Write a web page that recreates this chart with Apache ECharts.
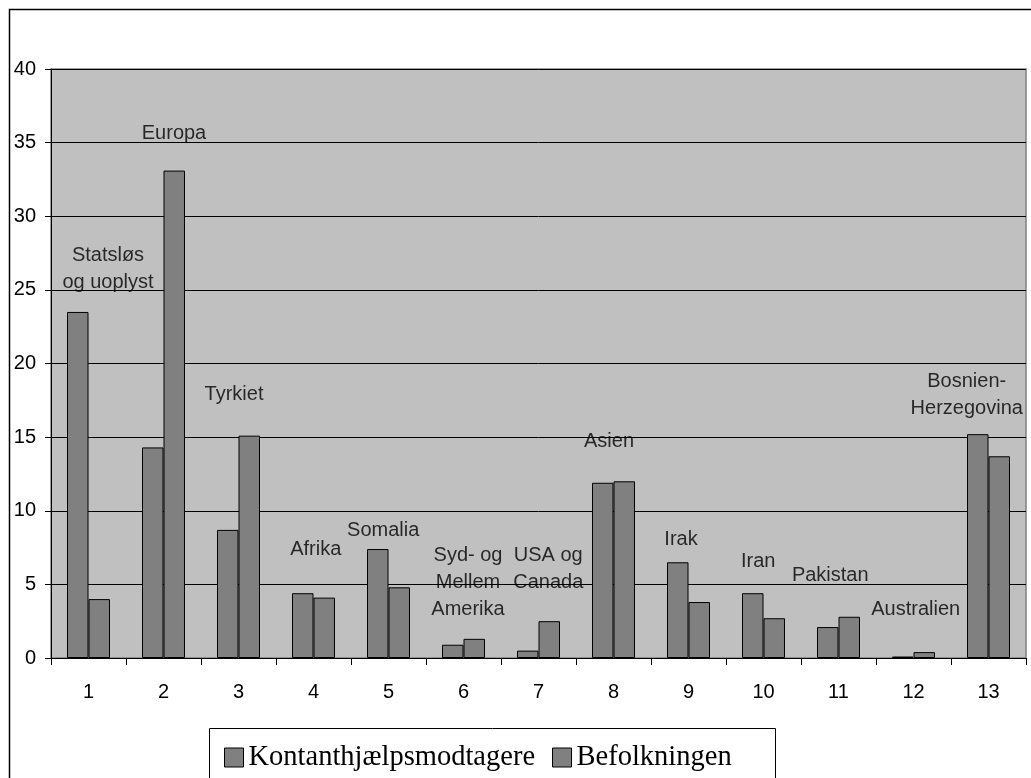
<!DOCTYPE html>
<html>
<head>
<meta charset="utf-8">
<script src="https://cdn.jsdelivr.net/npm/echarts@6/dist/echarts.min.js"></script>
<style>
html,body{margin:0;padding:0;background:#fff;}
#chart{width:1031px;height:778px;}
</style>
</head>
<body>
<div id="chart"></div>
<script>
// Data
const categories = ['1','2','3','4','5','6','7','8','9','10','11','12','13'];
const kontant = [23.5, 14.3, 8.7, 4.4, 7.4, 0.9, 0.5, 11.9, 6.5, 4.4, 2.1, 0.1, 15.2];
const befolk = [4.0, 33.1, 15.1, 4.1, 4.8, 1.3, 2.5, 12.0, 3.8, 2.7, 2.8, 0.4, 13.7];
const labelTexts = ['Statsløs\nog uoplyst','Europa','Tyrkiet','Afrika','Somalia','Syd- og\nMellem\nAmerika','USA og\nCanada','Asien','Irak','Iran','Pakistan','Australien','Bosnien-\nHerzegovina'];
const labelX = [1.26, 2.14, 2.94, 4.03, 4.93, 6.06, 7.13, 7.94, 8.9, 9.93, 10.89, 12.03, 12.71];
const labelY = [26.4, 35.65, 17.9, 7.38, 8.68, 5.14, 6.03, 14.72, 8.07, 6.57, 5.62, 3.3, 17.85];
const yTicks = [0, 5, 10, 15, 20, 25, 30, 35, 40];

const labelData = labelTexts.map((t, i) => [labelX[i], labelY[i], t]);

const chart = echarts.init(document.getElementById('chart'), null, {renderer: 'canvas'});
const sansFont = "'Liberation Sans', Arial, sans-serif";
const serifFont = "'Liberation Serif', 'Times New Roman', serif";

const option = {
  animation: false,
  backgroundColor: '#ffffff',
  grid: {
    left: 51, top: 69, right: 5, bottom: 120,
    show: true, backgroundColor: '#c0c0c0', borderColor: '#808080', borderWidth: 1.5,
    containLabel: false
  },
  legend: {
    data: ['Kontanthjælpsmodtagere', 'Befolkningen'],
    left: 219, top: 738,
    itemWidth: 19, itemHeight: 19, itemGap: 17,
    icon: 'rect',
    textStyle: {fontFamily: serifFont, fontSize: 28.5, color: '#000'},
    itemStyle: {borderColor: '#000', borderWidth: 1}
  },
  xAxis: [{
    type: 'category',
    data: categories,
    axisLine: {show: true, lineStyle: {color: '#000', width: 1}},
    axisTick: {show: true, alignWithLabel: false, length: 7, lineStyle: {color: '#000'}},
    axisLabel: {fontFamily: sansFont, fontSize: 20, color: '#000', margin: 24},
    splitLine: {show: false}
  }, {
    type: 'value', min: 0.5, max: 13.5, show: false
  }],
  yAxis: {
    type: 'value', min: yTicks[0], max: yTicks[yTicks.length - 1], interval: 5,
    axisLine: {show: true, lineStyle: {color: '#000', width: 1}},
    axisTick: {show: true, length: 6, lineStyle: {color: '#000'}},
    axisLabel: {fontFamily: sansFont, fontSize: 20, color: '#000', margin: 15},
    splitLine: {show: true, lineStyle: {color: '#000', width: 1}}
  },
  graphic: [
    {type: 'rect', shape: {x: 9.5, y: 9.5, width: 1040, height: 800}, style: {fill: null, stroke: '#000', lineWidth: 1.5}, silent: true, z: 100},
    {type: 'rect', shape: {x: 209.5, y: 728.5, width: 566, height: 80}, style: {fill: '#fff', stroke: '#000', lineWidth: 1}, silent: true, z: -1}
  ],
  series: [
    {
      name: 'Kontanthjælpsmodtagere', type: 'bar', data: kontant,
      barGap: '0%', barCategoryGap: '42.7%',
      itemStyle: {color: '#808080', borderColor: '#000', borderWidth: 1}
    },
    {
      name: 'Befolkningen', type: 'bar', data: befolk,
      barGap: '0%', barCategoryGap: '42.7%',
      itemStyle: {color: '#808080', borderColor: '#000', borderWidth: 1}
    },
    {
      name: 'labels', type: 'scatter', xAxisIndex: 1, yAxisIndex: 0,
      data: labelData, symbolSize: 0, silent: true,
      label: {
        show: true, position: 'inside',
        formatter: p => p.data[2],
        fontFamily: sansFont, fontSize: 20, color: '#000', lineHeight: 27, align: 'center'
      },
      z: 10
    }
  ]
};
chart.setOption(option);
</script>
</body>
</html>
